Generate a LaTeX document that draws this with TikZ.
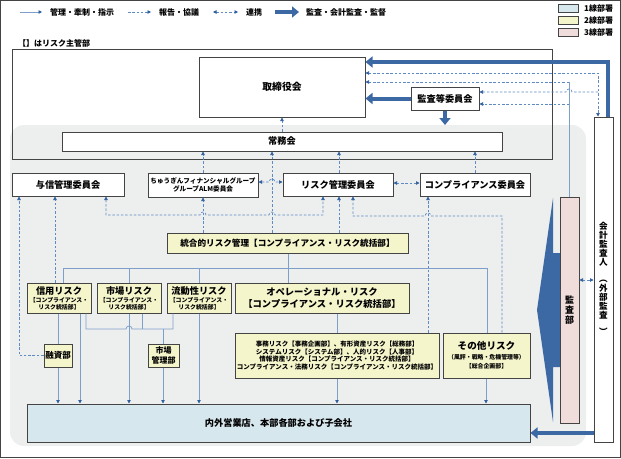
\documentclass[tikz,border=0pt]{standalone}
\usepackage{fontspec}
\setmainfont{Noto Sans CJK JP}
\usetikzlibrary{arrows.meta}
\definecolor{bggray}{HTML}{EDEEEE}
\definecolor{bord}{HTML}{444444}
\definecolor{lnblue}{HTML}{7F9FCB}
\definecolor{dsblue}{HTML}{5E8BC4}
\definecolor{tipblue}{HTML}{2E5E9E}
\definecolor{thkblue}{HTML}{3C68A4}
\definecolor{fillyel}{HTML}{F5F5CC}
\definecolor{fillblu}{HTML}{D7E7EE}
\definecolor{fillpnk}{HTML}{F1DCDC}
\begin{document}
\begin{tikzpicture}[x=1pt,y=-1pt,
 box/.style={draw=bord, line width=1pt, fill=white, inner sep=1pt, align=center, font=\fontsize{9.2}{10.5}\selectfont\bfseries},
 ybox/.style={box, fill=fillyel},
 sol/.style={draw=lnblue, line width=0.8pt},
 dsh/.style={draw=dsblue, line width=0.7pt, dash pattern=on 2.5pt off 1.8pt},
 arr/.style={-{Triangle[length=3.5pt,width=3.5pt,color=tipblue]}},
 darr/.style={{Triangle[length=3.5pt,width=3.5pt,color=tipblue]}-{Triangle[length=3.5pt,width=3.5pt,color=tipblue]}},
 thk/.style={draw=thkblue, line width=4pt, -{Triangle[length=7pt,width=11pt,color=thkblue]}},
 lgtext/.style={anchor=west, inner sep=0pt, font=\fontsize{8}{8.5}\selectfont\bfseries},
 lgbox/.style={draw=bord, line width=0.7pt, minimum width=20pt, minimum height=8pt, inner sep=0pt},
]
\useasboundingbox (0,0) rectangle (621,458);
\draw[bord, line width=0.8pt] (0.5,0.5) rectangle (620.5,457.5);

% legend
\coordinate (la1) at (20,12); \coordinate (lb1) at (42,12);
\coordinate (la2) at (128,12); \coordinate (lb2) at (151,12);
\coordinate (la3) at (213,12); \coordinate (lb3) at (238,12);
\coordinate (la4) at (275,12); \coordinate (lb4) at (299,12);
\draw[sol,arr] (la1) -- (lb1);
\draw[dsh,arr] (la2) -- (lb2);
\draw[dsh,darr] (la3) -- (lb3);
\draw[thk] (la4) -- (lb4);
\node[lgtext] (lt1) at (50,12) {管理・牽制・指示};
\node[lgtext] (lt2) at (159,12) {報告・協議};
\node[lgtext] (lt3) at (246,12) {連携};
\node[lgtext] (lt4) at (306,12) {監査・会計監査・監督};
\node[lgbox, fill=fillblu] (lg1) at (568,8) {};
\node[lgbox, fill=fillyel] (lg2) at (568,20) {};
\node[lgbox, fill=fillpnk] (lg3) at (568,32) {};
\node[lgtext] (lg1t) at (584,8) {1線部署};
\node[lgtext] (lg2t) at (584,20) {2線部署};
\node[lgtext] (lg3t) at (584,32) {3線部署};
\node[lgtext] (note) at (18,43) {【】はリスク主管部};

% backgrounds
\fill[bggray, rounded corners=14pt] (10,125) rectangle (586,446);
\draw[bord, line width=1pt] (12,49) rectangle (552,159);

% big audit arrow
\fill[thkblue] (553,198) -- (537,310) -- (553,422) -- (553,367) -- (560,367) -- (560,253) -- (553,253) -- cycle;

% boxes
\node[box, minimum width=166pt, minimum height=60pt, font=\fontsize{9.8}{11}\selectfont\bfseries] (tori) at (282,87) {取締役会};
\node[box, minimum width=68pt, minimum height=23pt] (ktou) at (445,98.5) {監査等委員会};
\node[box, minimum width=440pt, minimum height=19pt] (joumu) at (282,141.5) {常務会};
\node[box, minimum width=112pt, minimum height=23pt] (yoshin) at (68,184.5) {与信管理委員会};
\node[box, minimum width=110pt, minimum height=24pt, font=\fontsize{6.6}{7.8}\selectfont\bfseries] (alm) at (203,185) {ちゅうぎんフィナンシャルグループ\\グループALM委員会};
\node[box, minimum width=110pt, minimum height=23pt] (riskc) at (338,184.5) {リスク管理委員会};
\node[box, minimum width=110pt, minimum height=23pt] (compc) at (475,184.5) {コンプライアンス委員会};
\node[ybox, minimum width=241pt, minimum height=20pt, font=\fontsize{8.6}{9.5}\selectfont\bfseries] (tougou) at (287.5,243) {統合的リスク管理【コンプライアンス・リスク統括部】};

\node[ybox, minimum width=64pt, minimum height=30pt, font=\fontsize{5.9}{7}\selectfont\bfseries] (shin) at (59,298) {{\fontsize{9.2}{9.5}\selectfont 信用リスク}\\[1pt]【コンプライアンス・\\リスク統括部】};
\node[ybox, minimum width=64pt, minimum height=30pt, font=\fontsize{5.9}{7}\selectfont\bfseries] (shijou) at (129,298) {{\fontsize{9.2}{9.5}\selectfont 市場リスク}\\[1pt]【コンプライアンス・\\リスク統括部】};
\node[ybox, minimum width=64pt, minimum height=30pt, font=\fontsize{5.9}{7}\selectfont\bfseries] (ryudou) at (199,298) {{\fontsize{9.2}{9.5}\selectfont 流動性リスク}\\[1pt]【コンプライアンス・\\リスク統括部】};
\node[ybox, minimum width=174pt, minimum height=30pt, font=\fontsize{9.3}{11.5}\selectfont\bfseries] (ope) at (322,298) {オペレーショナル・リスク\\【コンプライアンス・リスク統括部】};
\node[ybox, minimum width=204pt, minimum height=45pt, font=\fontsize{6.5}{7.8}\selectfont\bfseries] (jimu) at (337,355.5) {事務リスク【事務企画部】、有形資産リスク【総務部】\\システムリスク【システム部】、人的リスク【人事部】\\情報資産リスク【コンプライアンス・リスク統括部】\\コンプライアンス・法務リスク【コンプライアンス・リスク統括部】};
\node[ybox, minimum width=87pt, minimum height=45pt, font=\fontsize{5.9}{9.5}\selectfont\bfseries] (sonota) at (486.5,355.5) {{\fontsize{9.6}{10}\selectfont その他リスク}\\（風評・戦略・危機管理等）\\【総合企画部】};
\node[ybox, minimum width=28pt, minimum height=23pt, font=\fontsize{8.5}{9.5}\selectfont\bfseries] (yushi) at (58,355.5) {融資部};
\node[ybox, minimum width=31pt, minimum height=23pt, font=\fontsize{8}{9.3}\selectfont\bfseries] (skanri) at (163.5,355.5) {市場\\管理部};
\node[box, fill=fillblu, minimum width=503pt, minimum height=38pt] (naigai) at (278.5,423) {内外営業店、本部各部および子会社};
\node[box, fill=fillpnk, minimum width=19pt, minimum height=226pt, font=\fontsize{9}{10}\selectfont\bfseries] (kansa) at (569.5,310) {監\\査\\部};
\node[box, minimum width=19pt, minimum height=325pt, font=\fontsize{8.6}{9}\selectfont\bfseries] (kaikei) at (603.5,279.5) {会\\計\\監\\査\\人\\\rotatebox{-90}{（}\\外\\部\\監\\査\\\rotatebox{-90}{）}};

% solid lines
\draw[sol] (288,0 |- tougou.south) -- (288,0 |- ope.north);
\draw[sol] (63,0 |- shin.north) -- (63,268) -- (487,268) -- (487,0 |- sonota.north);
\draw[sol] (129,268) -- (129,0 |- shijou.north);
\draw[sol] (199,268) -- (199,0 |- ryudou.north);
\draw[sol] (337,0 |- ope.south) -- (337,0 |- jimu.north);
\draw[sol] (58,0 |- shin.south) -- (58,0 |- yushi.north);
\draw[sol,arr] (58,0 |- yushi.south) -- (58,0 |- naigai.north);
\draw[sol,arr] (80,0 |- shin.south) -- (80,0 |- naigai.north);
\draw[sol] (86,0 |- shin.south) -- (86,329) -- (126,329) arc[start angle=180,end angle=0,radius=3pt] -- (173,329) -- (173,0 |- ryudou.south);
\draw[sol] (142,0 |- shijou.south) -- (142,329);
\draw[sol] (163,329) -- (163,0 |- skanri.north);
\draw[sol,arr] (129,0 |- shijou.south) -- (129,0 |- naigai.north);
\draw[sol,arr] (163,0 |- skanri.south) -- (163,0 |- naigai.north);
\draw[sol,arr] (199,0 |- ryudou.south) -- (199,0 |- naigai.north);
\draw[sol,arr] (337,0 |- jimu.south) -- (337,0 |- naigai.north);
\draw[sol,arr] (486,0 |- sonota.south) -- (486,0 |- naigai.north);
\draw[sol] (569,0 |- kansa.north) -- (569,82);

% dashed lines
\draw[dsh,arr] (joumu.north) -- (tori.south);
\draw[dsh,arr] (203,0 |- alm.north) -- (203,0 |- joumu.south);
\draw[dsh,arr] (272,0 |- tougou.north) -- (272,0 |- joumu.south);
\draw[dsh,arr] (339,0 |- riskc.north) -- (339,0 |- joumu.south);
\draw[dsh,arr] (475,0 |- compc.north) -- (475,0 |- joumu.south);
\draw[dsh,arr] (203,0 |- tougou.north) -- (203,0 |- alm.south);
\draw[dsh,arr] (339,0 |- tougou.north) -- (339,0 |- riskc.south);
\draw[dsh,darr] (106,0 |- yoshin.south) -- (106,215) -- (200,215) arc[start angle=180,end angle=0,radius=3pt] -- (269,215) arc[start angle=180,end angle=0,radius=3pt] -- (323,215) -- (323,0 |- riskc.south);
\draw[dsh,arr] (yushi.west) -- (19,0 |- yushi.west) -- (19,0 |- yoshin.south);
\draw[dsh,arr] (55,0 |- shin.north) -- (55,0 |- yoshin.south);
\draw[dsh,arr] (502,0 |- sonota.north) -- (502,216) -- (431,216) arc[start angle=0,end angle=180,radius=3pt] -- (353,216) -- (353,0 |- riskc.south);
\draw[dsh,arr] (428,0 |- jimu.north) -- (428,0 |- compc.south);
\draw[dsh,darr] (alm.east |- 0,182) -- (269,182) arc[start angle=180,end angle=0,radius=3pt] -- (riskc.west |- 0,182);
\draw[dsh,darr] (riskc.east |- 0,183) -- (compc.west |- 0,183);
\draw[dsh,darr] (tori.east |- 0,73) -- (598,73) -- (598,0 |- kaikei.north);
\draw[dsh,arr] (598,92) -- (572,92) arc[start angle=0,end angle=180,radius=3pt] -- (ktou.east |- 0,92);
\draw[dsh,arr] (569,82) -- (tori.east |- 0,82);
\draw[dsh,arr] (569,104) -- (ktou.east |- 0,104);
\draw[dsh,darr] (kansa.east |- 0,280) -- (kaikei.west |- 0,280);

% thick audit arrows
\draw[thk] (608,0 |- kaikei.north) -- (608,62) -- (tori.east |- 0,62);
\draw[thk] (ktou.west) -- (tori.east |- ktou.west);
\draw[thk] (ktou.south) -- (445,125);
\draw[thk] (kaikei.west |- 0,433) -- (naigai.east |- 0,433);
\end{tikzpicture}
\end{document}
